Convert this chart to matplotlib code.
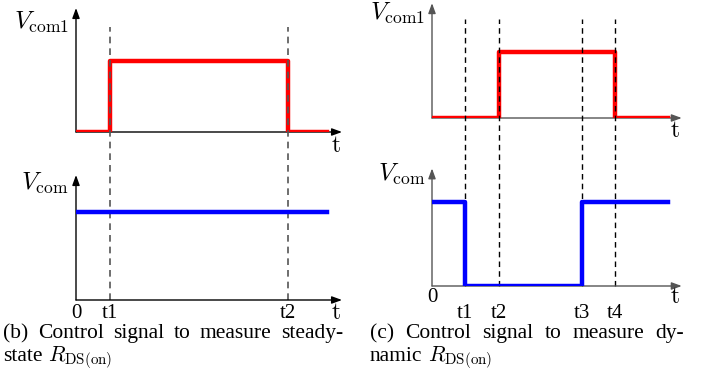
import matplotlib
matplotlib.use('Agg')
import matplotlib.pyplot as plt

plt.rcParams['mathtext.fontset'] = 'cm'
plt.rcParams['font.family'] = ['Liberation Serif', 'DejaVu Serif']

W, H = 702, 385

### Panel (b): steady-state measurement
t_b = [0, 1.36, 8.48, 10.04]
t_b_labels = ['t1', 't2']
vcom1_b = [0, 1, 0, 0]
vcom_b = [1, 1, 1, 1]

### Panel (c): dynamic measurement
t_c = [0, 1.0, 2.0, 4.5, 5.5, 7.09]
t_c_labels = ['t1', 't2', 't3', 't4']
vcom1_c = [0, 0, 1, 1, 0, 0]
vcom_c = [1, 0, 0, 1, 1, 1]

caption_b = [['(b)', 'Control', 'signal', 'to', 'measure', 'steady-'],
             ['state', r'$R_{\mathrm{DS(on)}}$']]
caption_c = [['(c)', 'Control', 'signal', 'to', 'measure', 'dy-'],
             ['namic', r'$R_{\mathrm{DS(on)}}$']]

fig = plt.figure(figsize=(W / 100, H / 100), dpi=100)


def panel(x0, y0, xs, ys, xmax, ymax, color):
    '''Axes whose data origin sits at pixel (x0, y0).'''
    ax = fig.add_axes([x0 / W, 1 - y0 / H, xmax * xs / W, ymax * ys / H])
    ax.set_xlim(0, xmax)
    ax.set_ylim(0, ymax)
    ax.axis('off')
    arrow = dict(arrowstyle='-|>,head_length=0.6,head_width=0.22',
                 color=color, lw=1.0, shrinkA=0, shrinkB=0)
    ax.annotate('', xy=(xmax, 0), xytext=(0, 0), arrowprops=arrow,
                annotation_clip=False)
    ax.annotate('', xy=(0, ymax), xytext=(0, 0), arrowprops=arrow,
                annotation_clip=False)
    return ax


def justified(words, x0, x1, y, size, justify=True):
    r = fig.canvas.get_renderer()
    texts = [fig.text(0, 1 - y / H, w, fontsize=size, va='baseline')
             for w in words]
    widths = [t.get_window_extent(r).width for t in texts]
    if justify:
        gap = (x1 - x0 - sum(widths)) / (len(words) - 1)
    else:
        gap = size * 100 / 72 * 0.25
    x = x0
    for t, w in zip(texts, widths):
        t.set_x(x / W)
        x += w + gap


fs = 15.5   # caption
ls = 15     # tick labels
vs = 18     # V labels
ts = 17     # axis "t"

### ---- panel (b) ----
ax1 = panel(76, 132, 25, 71, 10.64, 1.746, 'black')
ax1.step(t_b, vcom1_b, where='post', color='#ff0000', lw=3.2, zorder=3)
ax1.text(-0.3, 1.55, r'$V_{\mathrm{com1}}$', fontsize=vs, ha='right',
         va='center')
ax1.text(10.4, -0.2, r'$\mathrm{t}$', fontsize=ts, ha='center', va='center')

ax2 = panel(76, 300, 25, 88, 10.64, 1.42, 'black')
ax2.step(t_b, vcom_b, where='post', color='#0000ff', lw=3.2, zorder=3)
ax2.vlines(t_b[1:3], 0, 3.10, colors='#555555', linestyles=(0, (4, 3)),
           lw=1.2, clip_on=False)
ax2.text(-0.3, 1.33, r'$V_{\mathrm{com}}$', fontsize=vs, ha='right',
         va='center')
ax2.text(10.4, -0.15, r'$\mathrm{t}$', fontsize=ts, ha='center', va='center')
ax2.text(0, -0.15, '0', fontsize=ls, ha='center', va='center')
for tx, lab in zip(t_b[1:3], t_b_labels):
    ax2.text(tx, -0.15, lab, fontsize=ls, ha='center', va='center')

### ---- panel (c) ----
ax3 = panel(432, 118, 33.3, 66, 7.5, 1.74, '#555555')
ax3.step(t_c, vcom1_c, where='post', color='#ff0000', lw=3.2, zorder=3)
ax3.text(-0.2, 1.59, r'$V_{\mathrm{com1}}$', fontsize=vs, ha='right',
         va='center')
ax3.text(7.3, -0.2, r'$\mathrm{t}$', fontsize=ts, ha='center', va='center')

ax4 = panel(432, 286, 33.3, 84, 7.5, 1.40, '#555555')
ax4.step(t_c, vcom_c, where='post', color='#0000ff', lw=3.2, zorder=3)
ax4.vlines(t_c[1:5], 0, 3.18, colors='black', linestyles=(0, (4, 3)),
           lw=1.0, clip_on=False)
ax4.text(-0.2, 1.33, r'$V_{\mathrm{com}}$', fontsize=vs, ha='right',
         va='center')
ax4.text(7.3, -0.14, r'$\mathrm{t}$', fontsize=ts, ha='center', va='center')
ax4.text(0, -0.14, '0', fontsize=ls, ha='center', va='center')
for tx, lab in zip(t_c[1:5], t_c_labels):
    ax4.text(tx, -0.33, lab, fontsize=ls, ha='center', va='center')

### ---- captions ----
justified(caption_b[0], 3, 343, 338, fs)
justified(caption_b[1], 3, 343, 361, fs, justify=False)
justified(caption_c[0], 370, 684, 338, fs)
justified(caption_c[1], 370, 684, 361, fs, justify=False)

fig.savefig('out.png', dpi=100)
